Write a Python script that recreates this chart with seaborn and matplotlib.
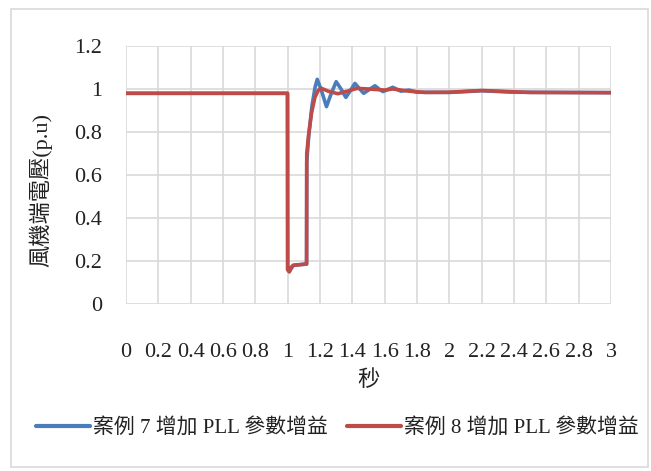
import numpy as np
import pandas as pd
import seaborn as sns
import matplotlib.pyplot as plt
from matplotlib.patches import Rectangle
from matplotlib.lines import Line2D

# Terminal voltage of the wind turbine (p.u.) versus time (s)
t_case7 = [0.0, 0.999, 1.0, 1.01, 1.035, 1.117, 1.118, 1.13, 1.15, 1.17, 1.183,
           1.21, 1.24, 1.27, 1.30, 1.33, 1.36, 1.39, 1.416, 1.44, 1.47, 1.50,
           1.54, 1.565, 1.59, 1.62, 1.65, 1.70, 1.75, 1.80, 2.0, 2.2, 2.4, 3.0]
v_case7 = [0.98, 0.98, 0.16, 0.15, 0.18, 0.186, 0.66, 0.78, 0.92, 1.01, 1.045,
           0.99, 0.918, 0.98, 1.034, 1.0, 0.961, 0.995, 1.026, 1.005, 0.98, 0.995,
           1.015, 1.0, 0.988, 0.998, 1.008, 0.99, 0.995, 0.985, 0.984, 0.992, 0.985, 0.983]

t_case8 = [0.0, 0.999, 1.0, 1.01, 1.02, 1.035, 1.117, 1.118, 1.13, 1.148, 1.169,
           1.19, 1.21, 1.25, 1.31, 1.37, 1.43, 1.5, 1.6, 1.65, 1.75, 1.85, 2.0,
           2.2, 2.3, 2.5, 3.0]
v_case8 = [0.98, 0.98, 0.16, 0.15, 0.17, 0.18, 0.186, 0.70, 0.79, 0.89, 0.962,
           0.995, 1.003, 0.99, 0.978, 0.99, 1.003, 1.0, 0.995, 1.0, 0.99, 0.984, 0.985,
           0.993, 0.99, 0.984, 0.983]

series_names = ["案例 7 增加 PLL 參數增益", "案例 8 增加 PLL 參數增益"]
series_colors = ["#4a7ebb", "#be4b48"]
x_ticks = [0, 0.2, 0.4, 0.6, 0.8, 1, 1.2, 1.4, 1.6, 1.8, 2, 2.2, 2.4, 2.6, 2.8, 3]
y_ticks = [0, 0.2, 0.4, 0.6, 0.8, 1, 1.2]

df = pd.concat([
    pd.DataFrame({"t": t_case7, "v": v_case7, "case": series_names[0]}),
    pd.DataFrame({"t": t_case8, "v": v_case8, "case": series_names[1]}),
], ignore_index=True)

sns.set_theme(style="white")
plt.rcParams["font.family"] = ["Liberation Serif", "Noto Sans CJK TC"]

fig = plt.figure(figsize=(6.51, 4.71), dpi=100)
ax = fig.add_axes([126 / 651, 1 - 304 / 471, 485 / 651, 258 / 471])

sns.lineplot(data=df, x="t", y="v", hue="case", palette=series_colors,
             estimator=None, sort=False, linewidth=2.6, ax=ax, legend=False)

ax.set_xlim(0, 3)
ax.set_ylim(0, 1.2)
ax.set_xticks(x_ticks)
ax.set_xticklabels([f"{v:g}" for v in x_ticks])
ax.set_yticks(y_ticks)
ax.set_yticklabels([f"{v:g}" for v in y_ticks])
ax.grid(True, color="#d9d9d9", linewidth=1.2)
ax.set_axisbelow(True)
for s in ax.spines.values():
    s.set_visible(False)
ax.tick_params(axis="x", length=0, pad=28, labelsize=16, colors="#222222")
ax.tick_params(axis="y", length=0, pad=17, labelsize=16, colors="#222222")

ax.set_xlabel("秒", fontsize=16, color="#222222", labelpad=6)
ax.set_ylabel("風機端電壓(p.u)", fontsize=16, color="#222222")
ax.yaxis.set_label_coords(-74 / 485, 0.44)

handles = [Line2D([0], [0], color=c, linewidth=3) for c in series_colors]
fig.legend(handles, series_names, loc="center", bbox_to_anchor=(0.518, 1 - 428 / 471),
           ncol=2, frameon=False, fontsize=15, handlelength=2.6,
           handletextpad=0.15, columnspacing=0.9, labelcolor="#222222")

# light chart border
fig.patches.append(Rectangle((11 / 651, 4 / 471), 637 / 651, 458 / 471,
                             transform=fig.transFigure, fill=False,
                             edgecolor="#d9d9d9", linewidth=1.2))

fig.savefig("out.png", dpi=100)
